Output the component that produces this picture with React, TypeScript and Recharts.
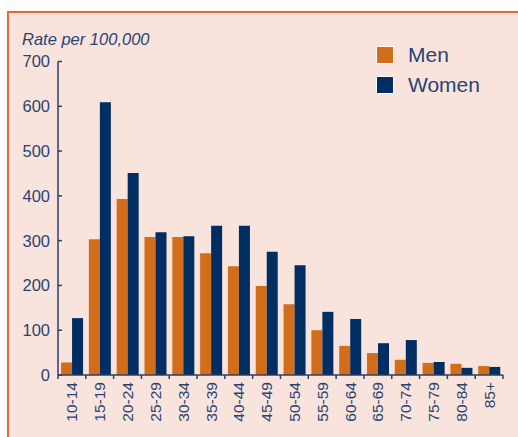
import React from 'react';
import { BarChart, Bar, XAxis, YAxis, Legend } from 'recharts';

const categories = ['10-14', '15-19', '20-24', '25-29', '30-34', '35-39', '40-44', '45-49', '50-54', '55-59', '60-64', '65-69', '70-74', '75-79', '80-84', '85+'];
const men = [28, 303, 393, 308, 308, 272, 243, 199, 158, 100, 65, 49, 34, 27, 25, 20];
const women = [127, 609, 451, 319, 310, 333, 333, 275, 245, 141, 125, 71, 78, 29, 16, 18];
const yTicks = [0, 100, 200, 300, 400, 500, 600, 700];

const data = categories.map((c, i) => ({ cat: c, Men: men[i], Women: women[i] }));

const W = 518;
const H = 437;
const M_LEFT = 58;
const M_RIGHT = 15;
const M_TOP = 61.5;
const X_H = 62;
const PLOT_W = W - M_LEFT - M_RIGHT;
const BAND = PLOT_W / categories.length;

const TEXT = '#2A4470';
const AXIS = '#2B3F66';
const ORANGE = '#D26E1A';
const NAVY = '#002D62';
const BG = '#F8E3DD';
const FONT = '"Liberation Sans", Arial, Helvetica, sans-serif';

const XTick = (props: any) => {
  const { x, y, payload, index } = props;
  const axisY = y - 7;
  const lx = x - BAND / 2;
  const rx = x + BAND / 2;
  const last = index === categories.length - 1;
  return (
    <g>
      <line x1={lx} y1={axisY} x2={lx} y2={axisY + 4} stroke={AXIS} strokeWidth={1.5} />
      {last && <line x1={rx} y1={axisY} x2={rx} y2={axisY + 4} stroke={AXIS} strokeWidth={1.5} />}
      <text
        x={x}
        y={y}
        transform={`rotate(-90, ${x}, ${y})`}
        textAnchor="end"
        dy="0.36em"
        fill={TEXT}
        fontSize={15.5}
        fontFamily={FONT}
      >
        {payload.value}
      </text>
    </g>
  );
};

const YTick = (props: any) => {
  const { x, y, payload } = props;
  const ax = x + 8;
  return (
    <g>
      <line x1={ax} y1={y} x2={ax + 4} y2={y} stroke={AXIS} strokeWidth={1.5} />
      <text x={x} y={y} textAnchor="end" dy="0.36em" fill={TEXT} fontSize={16.5} fontFamily={FONT}>
        {payload.value}
      </text>
    </g>
  );
};

const LegendContent = (props: any) => {
  const { payload } = props;
  return (
    <div style={{ fontFamily: FONT }}>
      {(payload || []).map((p: any) => (
        <div key={p.value} style={{ display: 'flex', alignItems: 'center', height: 30 }}>
          <div
            style={{
              width: 16,
              height: 16,
              background: p.color,
              border: '1px solid #ffffff',
              marginRight: 14,
            }}
          />
          <span style={{ fontSize: 21, color: TEXT, lineHeight: '30px' }}>{p.value}</span>
        </div>
      ))}
    </div>
  );
};

export default function App() {
  return (
    <div style={{ position: 'absolute', left: 0, top: 0, width: W, height: H, overflow: 'hidden', background: '#ffffff' }}>
      <div
        style={{
          position: 'absolute',
          left: 7,
          top: 11,
          width: W,
          height: H,
          background: BG,
          borderTop: `2px solid #E2683A`,
          borderLeft: `2px solid #E2683A`,
        }}
      />
      <div
        style={{
          position: 'absolute',
          left: 22,
          top: 29,
          fontFamily: FONT,
          fontStyle: 'italic',
          fontSize: 16.5,
          color: TEXT,
          lineHeight: '20px',
          whiteSpace: 'nowrap',
        }}
      >
        Rate per 100,000
      </div>
      <div style={{ position: 'absolute', left: 0, top: 0 }}>
        <BarChart
          width={W}
          height={H}
          data={data}
          margin={{ top: M_TOP, right: M_RIGHT, bottom: 0, left: 0 }}
          barCategoryGap="11%"
          barGap={0}
        >
          <XAxis
            dataKey="cat"
            height={X_H}
            interval={0}
            tickSize={0}
            tickMargin={7}
            tick={<XTick />}
            axisLine={{ stroke: AXIS, strokeWidth: 1.5 }}
            tickLine={false}
          />
          <YAxis
            width={M_LEFT}
            domain={[0, 700]}
            ticks={yTicks}
            interval={0}
            tickSize={0}
            tickMargin={8}
            tick={<YTick />}
            axisLine={{ stroke: AXIS, strokeWidth: 1.5 }}
            tickLine={false}
          />
          <Legend
            layout="vertical"
            verticalAlign="middle"
            align="center"
            content={<LegendContent />}
            wrapperStyle={{ position: 'absolute', left: 376, top: 40, width: 140, height: 60 }}
          />
          <Bar dataKey="Men" fill={ORANGE} isAnimationActive={false} />
          <Bar dataKey="Women" fill={NAVY} isAnimationActive={false} />
        </BarChart>
      </div>
    </div>
  );
}
